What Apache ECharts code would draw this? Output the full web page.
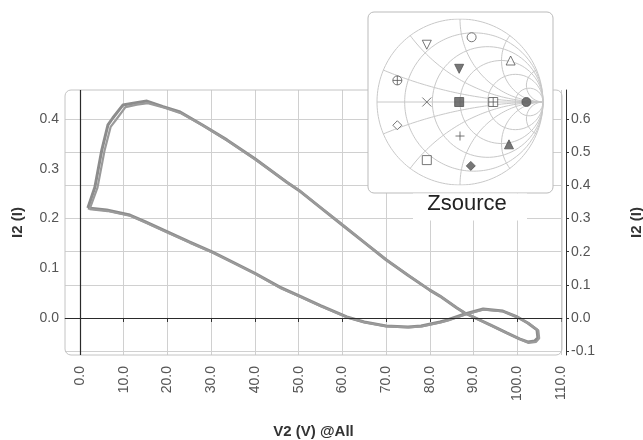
<!DOCTYPE html>
<html><head><meta charset="utf-8">
<script src="https://cdn.jsdelivr.net/npm/echarts@6/dist/echarts.min.js"></script>
<style>html,body{margin:0;padding:0;background:#fff;}#c{width:643px;height:440px;}</style>
</head><body><div id="c"></div>
<script>
// ---- data ----
const xTicks = [0, 10, 20, 30, 40, 50, 60, 70, 80, 90, 100, 110];
const leftTicks = [0, 0.1, 0.2, 0.3, 0.4];
const rightTicks = [-0.1, 0, 0.1, 0.2, 0.3, 0.4, 0.5, 0.6];

const V2_trace1 = [1.8,3.4,5.0,6.4,7.5,9.8,12.5,15.3,19.0,22.9,28.0,33.6,40.0,47.3,50.0,55.0,60.0,65.0,70.0,75.0,80.0,82.3,86.2,88.0,93.8,97.6,100.5,102.4,104.0,104.7,104.5,102.4,100.0,96.7,92.2,88.0,84.0,82.3,78.0,75.0,70.0,65.0,61.0,55.0,50.0,45.7,40.0,35.0,30.2,25.0,20.0,15.0,11.4,6.1,1.8];
const I2_trace1 = [0.221,0.263,0.338,0.388,0.402,0.428,0.432,0.436,0.425,0.414,0.388,0.358,0.320,0.273,0.257,0.222,0.187,0.152,0.117,0.086,0.056,0.044,0.020,0.010,-0.014,-0.030,-0.042,-0.048,-0.046,-0.040,-0.024,-0.010,0.002,0.014,0.018,0.008,-0.004,-0.008,-0.016,-0.018,-0.016,-0.008,0.002,0.025,0.045,0.062,0.090,0.112,0.133,0.153,0.173,0.193,0.207,0.217,0.221];
const V2_trace2 = [2.2,4.0,5.6,7.0,8.2,10.4,13.0,15.5,19.5,23.2,28.3,33.8,40.2,47.5,50.2,55.2,60.2,65.2,70.2,75.2,80.2,82.5,86.4,88.2,94.0,97.8,100.7,102.6,104.3,105.0,104.8,102.6,100.2,96.9,92.4,88.2,84.2,82.5,78.2,75.2,70.2,65.2,61.2,55.2,50.2,45.9,40.2,35.2,30.4,25.2,20.2,15.2,11.6,6.3,2.2];
const I2_trace2 = [0.219,0.262,0.336,0.384,0.398,0.424,0.429,0.432,0.422,0.411,0.386,0.356,0.318,0.272,0.256,0.221,0.186,0.151,0.116,0.085,0.055,0.043,0.019,0.009,-0.015,-0.031,-0.043,-0.050,-0.048,-0.041,-0.025,-0.011,0.001,0.013,0.017,0.007,-0.005,-0.009,-0.017,-0.019,-0.017,-0.009,0.001,0.023,0.043,0.060,0.088,0.110,0.131,0.151,0.171,0.191,0.205,0.215,0.219];

// Smith chart (Zsource) markers, reflection coefficient coordinates
const smithU = [-0.40, 0.14, 0.61, -0.01, -0.755, -0.40, -0.01, 0.40, 0.80, -0.755, 0.00, 0.59, -0.40, 0.13];
const smithV = [0.69, 0.78, 0.50, 0.40, 0.26, 0.00, 0.00, 0.00, 0.00, -0.28, -0.41, -0.51, -0.70, -0.77];
const smithSym = ['tri-down-open','circle-open','tri-open','tri-down','circle-plus','cross','square','square-plus','circle','diamond-open','plus','tri','square-open','diamond'];
const smithR = [0, 0.2, 0.5, 1, 2, 5];
const smithX = [0.2, 0.5, 1, 2, 5];

// ---- build ----
const FONT = "Arial, 'Liberation Sans', sans-serif";
const pair = (a, b) => a.map((v, i) => [v, b[i]]);
const MK = '#555';
function symItem(u, v, kind) {
  const d = { value: [u, v], symbolSize: 9, itemStyle: { color: MK, borderColor: MK, borderWidth: 1 } };
  const open = { color: '#fff', borderColor: MK, borderWidth: 1 };
  switch (kind) {
    case 'tri-down-open': d.symbol = 'triangle'; d.symbolRotate = 180; d.itemStyle = open; break;
    case 'circle-open': d.symbol = 'circle'; d.itemStyle = open; break;
    case 'tri-open': d.symbol = 'triangle'; d.itemStyle = open; break;
    case 'tri-down': d.symbol = 'triangle'; d.symbolRotate = 180; break;
    case 'circle-plus': d.symbol = 'path://M5 0A5 5 0 1 1 5 10A5 5 0 1 1 5 0ZM5 0L5 10M0 5L10 5'; d.itemStyle = open; break;
    case 'cross': d.symbol = 'path://M0 0L10 10M10 0L0 10'; d.itemStyle = { color: 'none', borderColor: MK, borderWidth: 1 }; d.symbolSize = 9; break;
    case 'square': d.symbol = 'rect'; break;
    case 'square-plus': d.symbol = 'path://M0 0H10V10H0ZM5 0V10M0 5H10'; d.itemStyle = open; break;
    case 'circle': d.symbol = 'circle'; break;
    case 'diamond-open': d.symbol = 'diamond'; d.itemStyle = open; break;
    case 'plus': d.symbol = 'path://M5 0L5 10M0 5L10 5'; d.itemStyle = { color: 'none', borderColor: MK, borderWidth: 1 }; d.symbolSize = 9; break;
    case 'tri': d.symbol = 'triangle'; break;
    case 'square-open': d.symbol = 'rect'; d.itemStyle = open; break;
    case 'diamond': d.symbol = 'diamond'; break;
  }
  return d;
}
const smithMarks = smithU.map((u, i) => symItem(u, smithV[i], smithSym[i]));

// Smith grid curves (constant resistance circles and reactance arcs)
const gridCurves = [];
smithR.forEach(r => {
  const c = r / (1 + r), rho = 1 / (1 + r), pts = [];
  for (let k = 0; k <= 180; k++) { const t = 2 * Math.PI * k / 180; pts.push([c + rho * Math.cos(t), rho * Math.sin(t)]); }
  gridCurves.push(pts);
});
smithX.forEach(x0 => {
  [x0, -x0].forEach(x => {
    const pts = [];
    for (let k = 0; k <= 200; k++) {
      const s = k / 200 * 0.9995, r = s / (1 - s);
      const D = (r + 1) * (r + 1) + x * x;
      pts.push([(r * r + x * x - 1) / D, 2 * x / D]);
    }
    pts.push([1, 0]);
    gridCurves.push(pts);
  });
});
gridCurves.push([[-1, 0], [1, 0]]);

const series = [
  { type: 'line', name: 'trace1', xAxisIndex: 0, yAxisIndex: 0, data: pair(V2_trace1, I2_trace1), showSymbol: false, symbol: 'none', z: 3,
    lineStyle: { color: '#8c8c8c', width: 3 }, silent: true,
    markLine: { silent: true, symbol: 'none', label: { show: false }, lineStyle: { color: '#2a2a2a', width: 1.2, type: 'solid' },
      data: [{ yAxis: 0 }, { xAxis: 0 }] } },
  { type: 'line', name: 'trace2', xAxisIndex: 0, yAxisIndex: 0, data: pair(V2_trace2, I2_trace2), showSymbol: false, symbol: 'none', z: 4,
    lineStyle: { color: '#9a9a9a', width: 2.2 }, silent: true }
];
gridCurves.forEach(pts => series.push({
  type: 'line', xAxisIndex: 1, yAxisIndex: 2, data: pts, showSymbol: false, symbol: 'none', silent: true, z: 20,
  lineStyle: { color: '#c8c8c8', width: 1 }, animation: false
}));
series.push({ type: 'scatter', xAxisIndex: 1, yAxisIndex: 2, data: smithMarks, z: 25, silent: true });

const chart = echarts.init(document.getElementById('c'), null, { renderer: 'canvas' });
chart.setOption({
  animation: false,
  backgroundColor: '#fff',
  textStyle: { fontFamily: FONT },
  grid: [
    { left: 65, top: 90, width: 497, height: 265, containLabel: false, outerBoundsMode: 'none' },
    { left: 377, top: 19, width: 166, height: 166, containLabel: false, outerBoundsMode: 'none' }
  ],
  xAxis: [
    { type: 'value', gridIndex: 0, min: -3.43, max: 110.22, offset: 6,
      name: 'V2 (V) @All', nameLocation: 'middle', nameGap: 63,
      nameTextStyle: { fontFamily: FONT, fontSize: 15, fontWeight: 'bold', color: '#333' },
      axisLine: { show: true, lineStyle: { color: '#333', width: 1 } },
      axisTick: { show: true, length: 4, customValues: xTicks, lineStyle: { color: '#333' } },
      axisLabel: { customValues: xTicks, rotate: 90, margin: 5, fontSize: 14, color: '#555', fontFamily: FONT,
        formatter: v => v.toFixed(1) },
      splitLine: { show: true, lineStyle: { color: '#d0d0d0', width: 1 } } },
    { type: 'value', gridIndex: 1, min: -1, max: 1, show: false, splitLine: { show: false } }
  ],
  yAxis: [
    { type: 'value', gridIndex: 0, position: 'left', min: -0.0744, max: 0.4583,
      name: 'I2 (I)', nameLocation: 'middle', nameGap: 40, nameRotate: 90,
      nameTextStyle: { fontFamily: FONT, fontSize: 15, fontWeight: 'bold', color: '#333' },
      axisLine: { show: false }, axisTick: { show: false, customValues: leftTicks },
      axisLabel: { customValues: leftTicks, margin: 6, fontSize: 14, color: '#555', fontFamily: FONT, formatter: v => v.toFixed(1) },
      splitLine: { show: false } },
    { type: 'value', gridIndex: 0, position: 'right', min: -0.1116, max: 0.6875, offset: 4,
      name: 'I2 (I)', nameLocation: 'middle', nameGap: 63, nameRotate: 90,
      nameTextStyle: { fontFamily: FONT, fontSize: 15, fontWeight: 'bold', color: '#333' },
      axisLine: { show: true, lineStyle: { color: '#333', width: 1 } },
      axisTick: { show: true, length: 3, customValues: rightTicks, lineStyle: { color: '#333' } },
      axisLabel: { customValues: rightTicks, margin: 5, fontSize: 14, color: '#555', fontFamily: FONT, formatter: v => v.toFixed(1) },
      splitLine: { show: true, lineStyle: { color: '#d0d0d0', width: 1 } } },
    { type: 'value', gridIndex: 1, min: -1, max: 1, show: false, splitLine: { show: false } }
  ],
  graphic: [
    { type: 'rect', z: 1, silent: true, shape: { x: 65, y: 90, width: 497, height: 265, r: 6 },
      style: { fill: 'none', stroke: '#c4c4c4', lineWidth: 1 } },
    { type: 'rect', z: 10, silent: true, shape: { x: 368, y: 12, width: 185, height: 181, r: 6 },
      style: { fill: '#fff', stroke: '#bbb', lineWidth: 1 } },
    { type: 'rect', z: 11, silent: true, shape: { x: 413, y: 193.5, width: 114, height: 27 },
      style: { fill: '#fff', stroke: 'none' } },
    { type: 'text', z: 30, silent: true, x: 467, y: 204,
      style: { text: 'Zsource', fontFamily: FONT, fontSize: 22, fill: '#222', align: 'center', verticalAlign: 'middle' } }
  ],
  series: series
});
</script></body></html>
